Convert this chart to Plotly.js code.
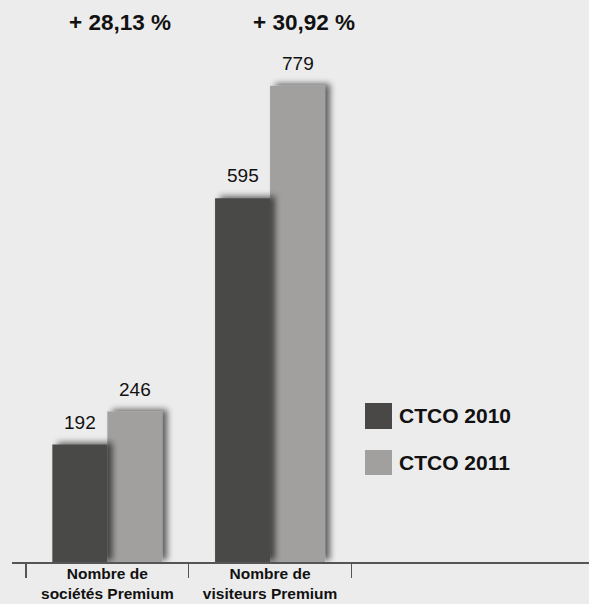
<!DOCTYPE html>
<html>
<head>
<meta charset="utf-8">
<script src="https://cdn.plot.ly/plotly-3.0.1.min.js"></script>
<style>
  html, body { margin: 0; padding: 0; background: #ececec; }
  #chart { width: 589px; height: 604px; }
</style>
</head>
<body>
<div id="chart"></div>
<script>
// Categories and series
const categories = ['Nombre de<br>sociétés Premium', 'Nombre de<br>visiteurs Premium'];
const seriesNames = ['CTCO 2010', 'CTCO 2011'];
const values2010 = [192, 595];
const values2011 = [246, 779];
const growthLabels = ['+ 28,13 %', '+ 30,92 %'];
const seriesColors = ['#4a4846', '#a2a09e'];

const FONT = '"Liberation Sans", Arial, Helvetica, sans-serif';
const allValues = [values2010, values2011];

const traces = allValues.map((vals, i) => ({
  type: 'bar',
  name: seriesNames[i],
  x: categories,
  y: vals,
  marker: { color: seriesColors[i], line: { width: 0 } },
  showlegend: false,
  hoverinfo: 'skip'
}));

const annotations = [];

// value labels above each bar
const halfBar = 27.5;
allValues.forEach((vals, i) => {
  vals.forEach((v, j) => {
    annotations.push({
      xref: 'x', yref: 'y', x: categories[j], y: v,
      xshift: i === 0 ? -halfBar : halfBar, yshift: 10,
      text: String(v), showarrow: false,
      xanchor: 'center', yanchor: 'bottom',
      font: { family: FONT, size: 19, color: '#111' }
    });
  });
});

// growth percentages at the top
const growthX = [0.1872, 0.5052];
growthLabels.forEach((t, j) => {
  annotations.push({
    xref: 'paper', yref: 'paper', x: growthX[j], y: 1.015,
    text: t, showarrow: false, xanchor: 'center', yanchor: 'middle',
    font: { family: FONT, size: 22.5, color: '#111', weight: 'bold' }
  });
});

// legend: swatches + labels
const shapes = [];
const legendRows = [{ y0: 0.25, y1: 0.2989 }, { y0: 0.1635, y1: 0.2105 }];
seriesNames.forEach((name, i) => {
  const r = legendRows[i];
  shapes.push({
    type: 'rect', xref: 'paper', yref: 'paper',
    x0: 0.6118, x1: 0.6586, y0: r.y0, y1: r.y1,
    fillcolor: seriesColors[i], line: { width: 0 }
  });
  annotations.push({
    xref: 'paper', yref: 'paper', x: 0.6672, y: (r.y0 + r.y1) / 2,
    text: name, showarrow: false, xanchor: 'left', yanchor: 'middle',
    font: { family: FONT, size: 21, color: '#111', weight: 'bold' }
  });
});

const layout = {
  width: 589, height: 604,
  margin: { l: 12, r: 0, t: 30, b: 42 },
  paper_bgcolor: '#ececec',
  plot_bgcolor: '#ececec',
  barmode: 'group',
  bargap: 0.324,
  bargroupgap: 0,
  xaxis: {
    type: 'category',
    range: [-0.586, 2.96],
    showline: true, linecolor: '#555', linewidth: 1.5,
    ticks: 'outside', tickson: 'boundaries', ticklen: 14,
    tickcolor: '#555', tickwidth: 1.5,
    showgrid: false, zeroline: false,
    ticklabelstandoff: -3,
    tickfont: { family: FONT, size: 15.5, color: '#111', weight: 'bold' }
  },
  yaxis: { visible: false, range: [0, 870], fixedrange: true },
  shapes: shapes,
  annotations: annotations,
  showlegend: false
};

Plotly.newPlot('chart', traces, layout, { staticPlot: true, displayModeBar: false }).then(gd => {
  // soft drop shadow to the right of each bar
  const svg = gd.querySelector('.main-svg');
  const ns = 'http://www.w3.org/2000/svg';
  let defs = svg.querySelector('defs');
  if (!defs) { defs = document.createElementNS(ns, 'defs'); svg.insertBefore(defs, svg.firstChild); }
  const f = document.createElementNS(ns, 'filter');
  f.setAttribute('id', 'barShadow');
  f.setAttribute('x', '-30%'); f.setAttribute('y', '-10%');
  f.setAttribute('width', '170%'); f.setAttribute('height', '120%');
  f.innerHTML =
    '<feGaussianBlur in="SourceAlpha" stdDeviation="3" result="b"/>' +
    '<feOffset in="b" dx="5" dy="-2" result="o"/>' +
    '<feComponentTransfer in="o" result="s"><feFuncA type="linear" slope="0.6"/></feComponentTransfer>' +
    '<feMerge><feMergeNode in="s"/><feMergeNode in="SourceGraphic"/></feMerge>';
  defs.appendChild(f);
  gd.querySelectorAll('.barlayer .trace.bars .point path').forEach(p => p.setAttribute('filter', 'url(#barShadow)'));
  // draw the first series on top so its shadow falls onto the neighbouring bar
  const groups = gd.querySelectorAll('.barlayer .trace.bars');
  if (groups.length > 1) groups[0].parentNode.appendChild(groups[0]);
});
</script>
</body>
</html>
